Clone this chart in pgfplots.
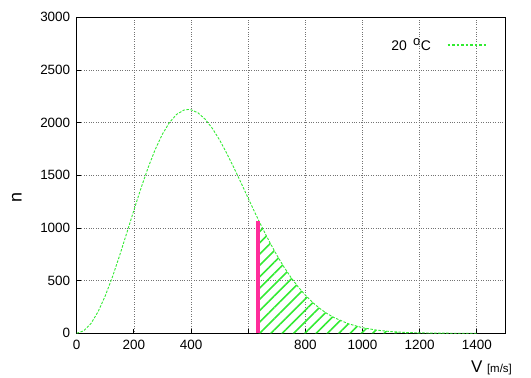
\documentclass[border=0pt]{standalone}
\usepackage{fontspec}
\setmainfont{Liberation Sans}
\usepackage{pgfplots}
\pgfplotsset{compat=1.18}
\usetikzlibrary{patterns.meta}
\definecolor{curvegreen}{RGB}{50,235,50}
\definecolor{vpink}{RGB}{255,45,155}
\begin{document}
\begin{tikzpicture}
\path (-76.7bp,-44.7bp) rectangle (454.3bp,333.3bp);
\begin{axis}[
  scale only axis,
  width=428.7bp, height=316bp,
  at={(0,0)}, anchor=south west,
  xmin=0, xmax=1500, ymin=0, ymax=3000,
  xtick={0,200,400,600,800,1000,1200,1400},
  xticklabels={0,200,400,,800,1000,1200,1400},
  ytick={0,500,1000,1500,2000,2500,3000},
  tick align=inside,
  tick pos=left,
  major tick length=4bp,
  tick style={black, line width=0.8pt},
  grid=major,
  major grid style={black!55, dotted, line width=0.7pt},
  axis line style={black, line width=1.4pt},
  /pgf/number format/assume math mode=true,
  /pgf/number format/1000 sep={},
  ticklabel style={font=\fontsize{13.5}{13.5}\selectfont},
  xticklabel style={yshift=-3bp},
  yticklabel style={xshift=-3bp},
  xlabel={\fontsize{17}{17}\selectfont V \fontsize{11.5}{11.5}\selectfont[m/s]},
  xlabel style={at={(axis description cs:1,0)}, anchor=base east, xshift=10bp, yshift=-39bp},
  ylabel={\fontsize{18}{18}\selectfont n},
  ylabel style={at={(axis description cs:0,0.43)}, anchor=center, yshift=60bp},
  legend style={at={(axis cs:1440,2737)}, anchor=east, draw=none, fill=none,
    font=\fontsize{14}{14}\selectfont, inner sep=0pt},
  legend plot pos=right,
  legend image code/.code={\draw[curvegreen, line width=1.1pt, dash pattern=on 2.5bp off 2bp] (0bp,0bp) -- (40bp,0bp);},
  legend cell align=right,
]
\addplot[draw=none, pattern={Lines[angle=45,distance=8bp,line width=1.6bp]}, pattern color=curvegreen, forget plot]
 table {
x y
635 1080
650 998
675 866
700 743
725 630
750 529
775 440
800 362
825 294
850 237
875 189
900 150
950 91
1000 53
1050 30
1100 16
1150 8
1200 4
1250 2
1300 1
} \closedcycle;
\addplot[curvegreen, line width=0.9pt, dash pattern=on 2.5bp off 1.5bp]
 table {
x y
0 0
25 24
50 93
75 206
100 356
125 535
150 737
175 951
200 1168
225 1378
250 1574
275 1747
300 1891
325 2003
350 2079
375 2119
390 2125
400 2122
425 2092
450 2031
475 1944
500 1835
525 1709
550 1572
575 1429
600 1282
625 1137
650 998
675 866
700 743
725 630
750 529
775 440
800 362
825 294
850 237
875 189
900 150
950 91
1000 53
1050 30
1100 16
1150 8
1200 4
1250 2
1300 1
1350 0
1400 0
};
\addlegendentry{20 \,\textsuperscript{\fontsize{13}{13}\selectfont o}C\mbox{}\hspace{14bp}\mbox{}}
\addplot[vpink, line width=4.3bp, forget plot] coordinates {(635,0) (635,1070)};
\node[text=vpink, font=\fontsize{27}{27}\selectfont, anchor=north] at (axis cs:635,-90) {V};
\end{axis}
\end{tikzpicture}
\end{document}
